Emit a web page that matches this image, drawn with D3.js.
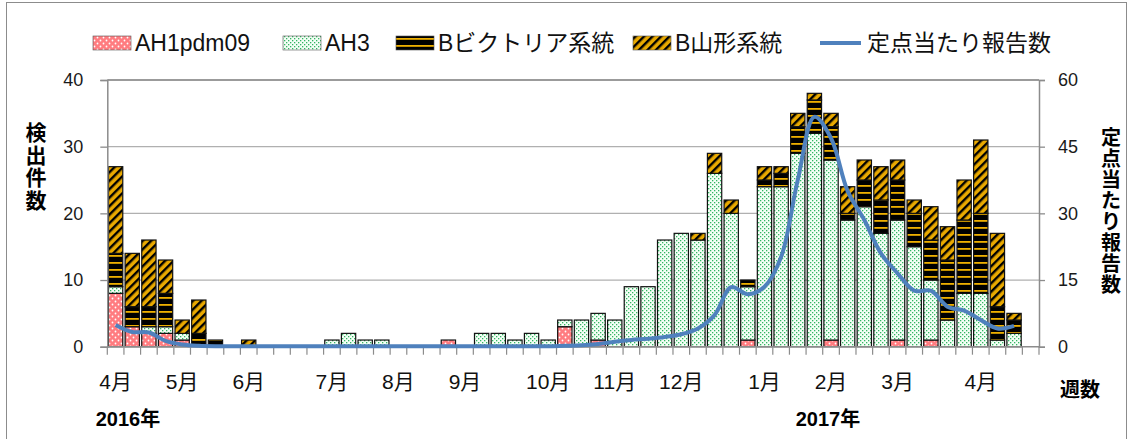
<!DOCTYPE html>
<html>
<head>
<meta charset="utf-8">
<script src="https://cdn.jsdelivr.net/npm/d3@7"></script>
<style>
  body { margin: 0; background: #fff; }
  svg text { font-family: "Liberation Sans", "Noto Sans CJK JP", sans-serif; }
</style>
</head>
<body>
<div id="chart"></div>
<script>
// weeks: 2016 week 14 .. 2017 week 17
var weeks = ["2016-14","2016-15","2016-16","2016-17","2016-18","2016-19","2016-20","2016-21","2016-22","2016-23",
  "2016-24","2016-25","2016-26","2016-27","2016-28","2016-29","2016-30","2016-31","2016-32","2016-33",
  "2016-34","2016-35","2016-36","2016-37","2016-38","2016-39","2016-40","2016-41","2016-42","2016-43",
  "2016-44","2016-45","2016-46","2016-47","2016-48","2016-49","2016-50","2016-51","2016-52","2017-1",
  "2017-2","2017-3","2017-4","2017-5","2017-6","2017-7","2017-8","2017-9","2017-10","2017-11",
  "2017-12","2017-13","2017-14","2017-15","2017-16","2017-17"];

var ah1 = [8,3,2,2,1,0,0,0,0,0, 0,0,0,0,0,0,0,0,0,0, 1,0,0,0,0,0,0,3,0,1,
  0,0,0,0,0,0,0,0,1,0, 0,0,0,1,0,0,0,1,0,1, 0,0,0,0,0,0];
var ah3 = [1,0,1,1,1,0,0,0,0,0, 0,0,0,1,2,1,1,0,0,0, 0,0,2,2,1,2,1,1,4,4,
  4,9,9,16,17,16,26,20,8,24, 24,29,32,27,19,21,17,18,15,9, 4,8,8,1,2,0];
var bVic = [5,3,3,5,0,2,1,0,0,0, 0,0,0,0,0,0,0,0,0,0, 0,0,0,0,0,0,0,0,0,0,
  0,0,0,0,0,0,0,0,1,1, 2,4,5,5,1,4,5,6,5,6, 9,11,12,5,2,0];
var bYam = [13,8,10,5,2,5,0,0,1,0, 0,0,0,0,0,0,0,0,0,0, 0,0,0,0,0,0,0,0,0,0,
  0,0,0,0,0,1,3,2,0,2, 1,2,1,2,4,3,5,3,2,5, 5,6,11,11,1,0];
// 定点当たり報告数
var perSite = [4.9,3.3,3.2,1.3,0.5,0.2,0.1,0.1,0.1,0.1, 0.1,0.1,0.1,0.1,0.1,0.1,0.1,0.1,0.1,0.1,
  0.1,0.1,0.1,0.1,0.1,0.1,0.1,0.2,0.3,0.6, 1.1,1.5,1.8,2.2,2.8,4.1,7.1,13.4,11.8,13.5,
  20.2,37.5,51.7,46.9,35,28.5,21,16.5,12.6,12.6, 9,8.1,6,4.1,4.7,null];

var monthWeeks = ["2016-14","2016-18","2016-22","2016-27","2016-31","2016-35","2016-40","2016-44","2016-48","2017-1","2017-5","2017-9","2017-14"];
var monthLabels = ["4月","5月","6月","7月","8月","9月","10月","11月","12月","1月","2月","3月","4月"];
var leftTicks = [0,10,20,30,40];
var rightTicks = [0,15,30,45,60];

var seriesKeys = ["ah1","ah3","bVic","bYam"];
var seriesNames = ["AH1pdm09","AH3","Bビクトリア系統","B山形系統"];
var lineName = "定点当たり報告数";

var W = 1132, H = 439;
var plotL = 107.3, plotR = 1039, plotT = 80, plotB = 346.7;

var svg = d3.select("#chart").append("svg").attr("width", W).attr("height", H);

// patterns
var defs = svg.append("defs");
var p1 = defs.append("pattern").attr("id","pPink").attr("patternUnits","userSpaceOnUse").attr("width",6).attr("height",6);
p1.append("rect").attr("width",6).attr("height",6).attr("fill","#ff7c80");
p1.append("circle").attr("cx",1.5).attr("cy",1.5).attr("r",0.9).attr("fill","#fff");
p1.append("circle").attr("cx",4.5).attr("cy",4.5).attr("r",0.9).attr("fill","#fff");

var p2 = defs.append("pattern").attr("id","pGreen").attr("patternUnits","userSpaceOnUse").attr("width",4).attr("height",4);
p2.append("rect").attr("width",4).attr("height",4).attr("fill","#f4fff6");
p2.append("rect").attr("x",0).attr("y",0).attr("width",1.3).attr("height",1.3).attr("fill","#33b562");
p2.append("rect").attr("x",2).attr("y",2).attr("width",1.3).attr("height",1.3).attr("fill","#33b562");

var p3 = defs.append("pattern").attr("id","pVic").attr("patternUnits","userSpaceOnUse").attr("width",8).attr("height",7);
p3.append("rect").attr("width",8).attr("height",7).attr("fill","#000");
p3.append("rect").attr("y",3).attr("width",8).attr("height",1.8).attr("fill","#eeb000");

var p4 = defs.append("pattern").attr("id","pYam").attr("patternUnits","userSpaceOnUse").attr("width",6).attr("height",6)
  .attr("patternTransform","rotate(45)");
p4.append("rect").attr("width",6).attr("height",6).attr("fill","#e9a900");
p4.append("rect").attr("width",2.4).attr("height",6).attr("fill","#000");

var fills = {ah1:"url(#pPink)", ah3:"url(#pGreen)", bVic:"url(#pVic)", bYam:"url(#pYam)"};

// scales
var x = d3.scaleBand().domain(weeks).range([plotL, plotR]).paddingInner(0.14).paddingOuter(0.07);
var y = d3.scaleLinear().domain([0,40]).range([plotB, plotT]);
var y2 = d3.scaleLinear().domain([0,60]).range([plotB, plotT]);

// outer border
svg.append("rect").attr("x",6.5).attr("y",2.5).attr("width",1120).attr("height",460)
  .attr("fill","none").attr("stroke","#8c8c8c").attr("stroke-width",1);

// grid
svg.append("g").selectAll("line").data(leftTicks.slice(1)).enter().append("line")
  .attr("x1",plotL).attr("x2",plotR)
  .attr("y1",function(d){ return y(d); }).attr("y2",function(d){ return y(d); })
  .attr("stroke",function(d){ return d == 40 ? "#7a7a7a" : "#b0b0b0"; })
  .attr("stroke-width",1.3);

// bars
var rows = weeks.map(function(w,i){
  return {week:w, ah1:ah1[i], ah3:ah3[i], bVic:bVic[i], bYam:bYam[i]};
});
var stacked = d3.stack().keys(seriesKeys)(rows);

svg.append("g").selectAll("g").data(stacked).enter().append("g")
  .attr("fill",function(s){ return fills[s.key]; })
  .selectAll("rect").data(function(s){ return s.filter(function(d){ return d[1] > d[0]; }); })
  .enter().append("rect")
  .attr("x",function(d){ return x(d.data.week); })
  .attr("width",x.bandwidth())
  .attr("y",function(d){ return y(d[1]); })
  .attr("height",function(d){ return y(d[0]) - y(d[1]); })
  .attr("stroke","#111").attr("stroke-width",1.2);

// axes
var axisCol = "#8c8c8c";
var gl = svg.append("g").attr("transform","translate(" + plotL + ",0)")
  .call(d3.axisLeft(y).tickValues(leftTicks).tickSize(7).tickPadding(17));
var gr = svg.append("g").attr("transform","translate(" + plotR + ",0)")
  .call(d3.axisRight(y2).tickValues(rightTicks).tickSize(6).tickPadding(13));
[gl, gr].forEach(function(g){
  g.select(".domain").attr("stroke",axisCol).attr("stroke-width",1.5);
  g.selectAll(".tick line").attr("stroke",axisCol).attr("stroke-width",1.3);
  g.selectAll(".tick text").attr("font-size",18).attr("fill","#1a1a1a")
    .attr("font-family","Liberation Sans, sans-serif");
});

// category axis
svg.append("line").attr("x1",plotL).attr("x2",plotR).attr("y1",plotB).attr("y2",plotB)
  .attr("stroke",axisCol).attr("stroke-width",1.5);
var half = x.step() * x.paddingInner() / 2;
var bounds = weeks.map(function(w){ return x(w) - half; }).concat([plotR]);
svg.append("g").selectAll("line").data(bounds).enter().append("line")
  .attr("x1",function(d){ return d; }).attr("x2",function(d){ return d; })
  .attr("y1",plotB).attr("y2",plotB + 8)
  .attr("stroke",axisCol).attr("stroke-width",1.2);

svg.append("g").selectAll("text").data(monthWeeks).enter().append("text")
  .attr("x",function(d){ return x(d) + x.bandwidth()/2; })
  .attr("y",389)
  .attr("text-anchor","middle").attr("font-size",21).attr("fill","#111")
  .text(function(d,i){ return monthLabels[i]; });

// line
var line = d3.line()
  .defined(function(d){ return d != null; })
  .x(function(d,i){ return x(weeks[i]) + x.bandwidth()/2; })
  .y(function(d){ return y2(d); })
  .curve(d3.curveCatmullRom.alpha(0.5));
svg.append("path").datum(perSite).attr("d",line)
  .attr("fill","none").attr("stroke","#4f81bd").attr("stroke-width",4)
  .attr("stroke-linejoin","round");

// axis titles
function vtext(chars, cx, y0, step, size) {
  svg.append("g").selectAll("text").data(chars.split("")).enter().append("text")
    .attr("x",cx).attr("y",function(d,i){ return y0 + i*step; })
    .attr("text-anchor","middle").attr("font-size",size).attr("font-weight","bold")
    .attr("font-family","Noto Sans CJK JP, sans-serif")
    .text(function(d){ return d; });
}
vtext("検出件数", 36, 140, 22.5, 21);
vtext("定点当たり報告数", 1111, 145, 21, 20);

svg.append("text").attr("x",1080).attr("y",397).attr("text-anchor","middle")
  .attr("font-size",20).attr("font-weight","bold").text("週数");
svg.append("text").attr("x",128).attr("y",426).attr("text-anchor","middle")
  .attr("font-size",20).attr("font-weight","bold").text("2016年");
svg.append("text").attr("x",828).attr("y",426).attr("text-anchor","middle")
  .attr("font-size",20).attr("font-weight","bold").text("2017年");

// legend
var legX = [93, 283, 396, 633];
var lg = svg.append("g");
seriesKeys.forEach(function(k,i){
  lg.append("rect").attr("x",legX[i]).attr("y",36).attr("width",38).attr("height",14)
    .attr("fill",fills[k]).attr("stroke","#555").attr("stroke-width",0.6);
  lg.append("text").attr("x",legX[i] + 42).attr("y",51).attr("font-size",23).attr("fill","#111")
    .text(seriesNames[i]);
});
lg.append("line").attr("x1",820).attr("x2",861).attr("y1",43).attr("y2",43)
  .attr("stroke","#4f81bd").attr("stroke-width",4);
lg.append("text").attr("x",867).attr("y",51).attr("font-size",23).attr("fill","#111").text(lineName);
</script>
</body>
</html>
